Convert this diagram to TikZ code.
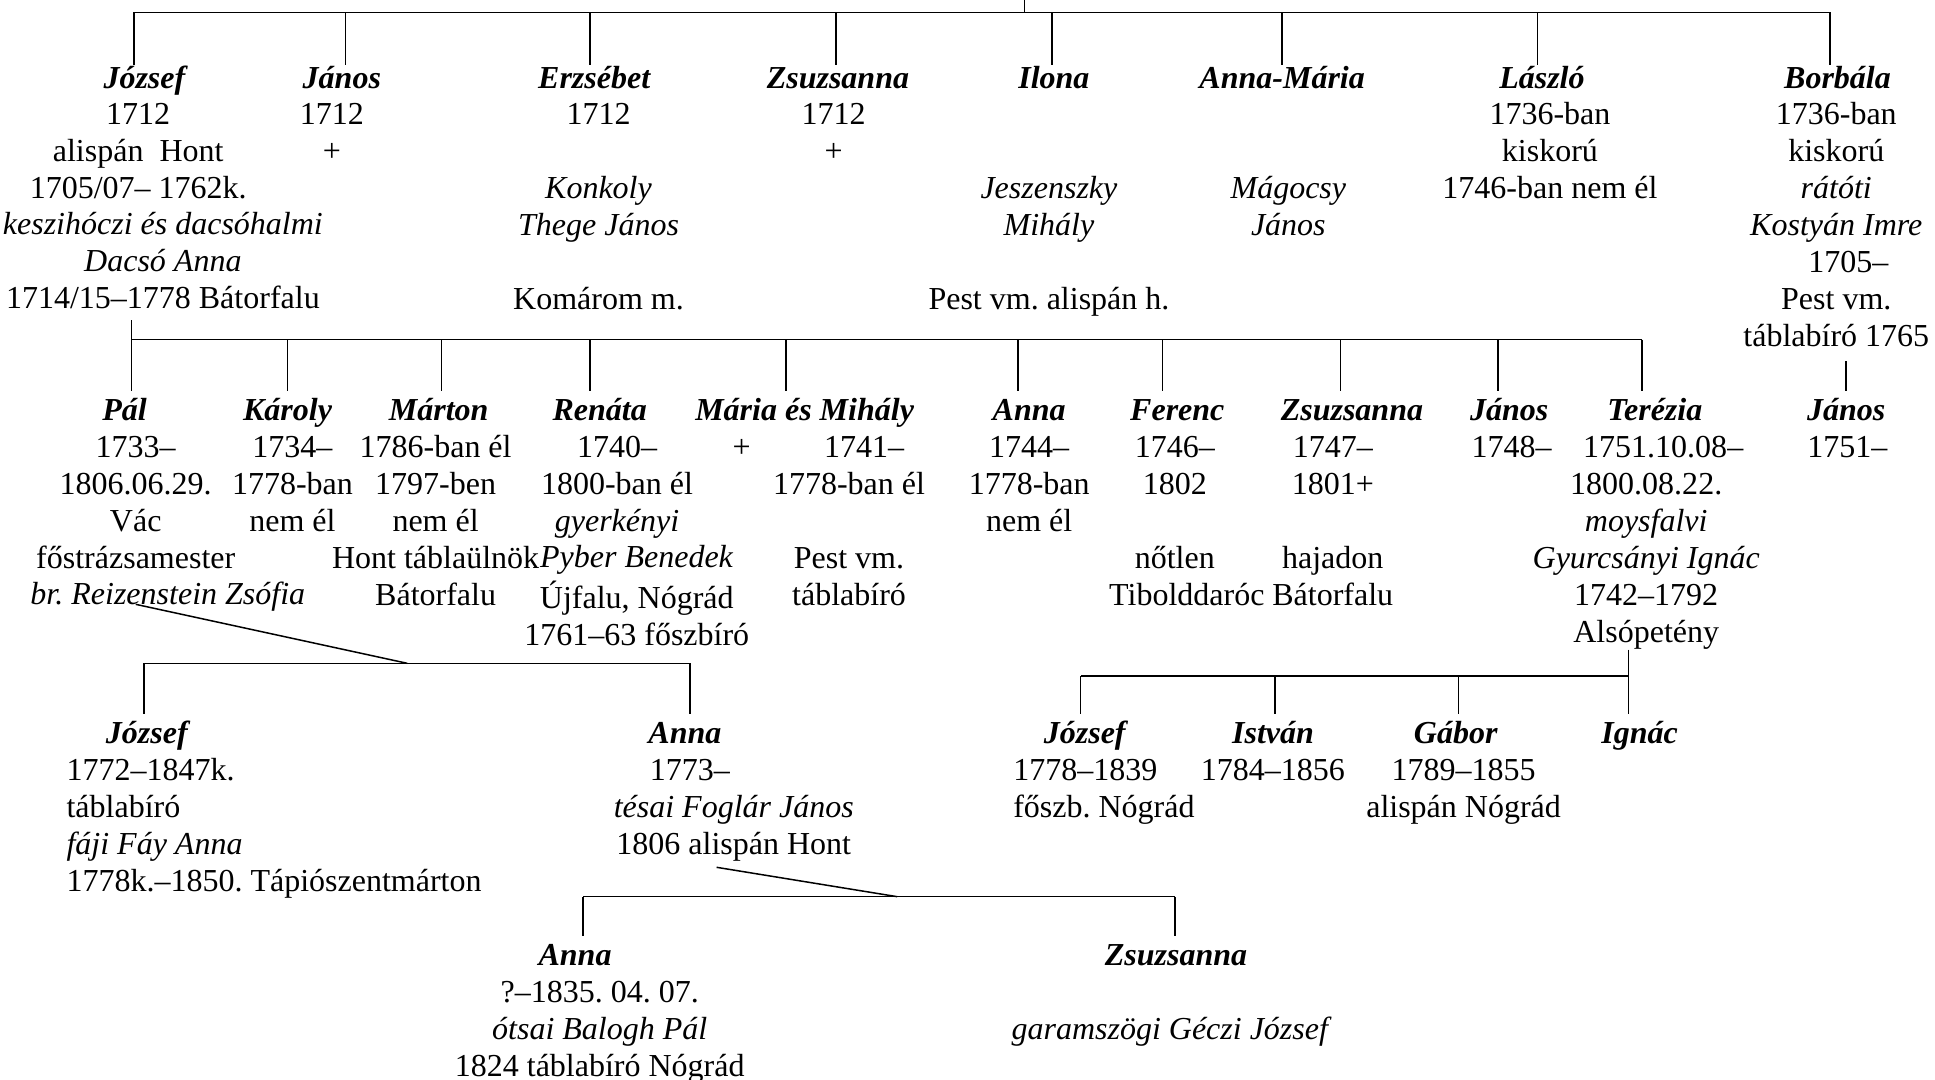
\documentclass[tikz,border=0pt]{standalone}
\usepackage{fontspec}
\setmainfont{Liberation Serif}
\newcommand\txtsz{\fontsize{16}{18.5}\selectfont\frenchspacing}
\tikzset{
  ln/.style={line width=0.75pt,draw=black},
  nm/.style={font=\txtsz\bfseries\itshape,inner sep=0pt,anchor=base,text height=14.5pt},
  nmtop/.style={nm,text height=11.4pt},
  info/.style={font=\txtsz,inner sep=0pt,anchor=north,align=center},
  infol/.style={info,anchor=north west,align=left}
}
\begin{document}
\begin{tikzpicture}[x=0.617pt,y=-0.617pt]
  \fill[white] (0,0) rectangle (1568,875);
  \useasboundingbox (0,0) rectangle (1568,875);

  \coordinate (top) at (830,0);
  \coordinate (b1l) at (108.5,10);
  \coordinate (b1r) at (1483,10);
  \node[nmtop] (jozsef) at (117,71.5) {József};
  \node[nmtop] (janos) at (277,71.5) {János};
  \node[nmtop] (erzsebet) at (481.5,71.5) {Erzsébet};
  \node[nmtop] (zsuzsanna) at (679,71.5) {Zsuzsanna};
  \node[nmtop] (ilona) at (854,71.5) {Ilona};
  \node[nmtop] (annamaria) at (1039,71.5) {Anna-Mária};
  \node[nmtop] (laszlo) at (1249.5,71.5) {László};
  \node[nmtop] (borbala) at (1489,71.5) {Borbála};
  \node[info] (jozsefi) at (112,79.5) {\strut 1712\\alispán~~Hont\\1705/07– 1762k.};
  \node[info] (jozsefs) at (132,168.9) {\strut\textit{keszihóczi és dacsóhalmi}\\\textit{Dacsó Anna}\hspace{18pt}\\1714/15–1778 Bátorfalu};
  \node[info] (janosi) at (269,79.5) {\strut 1712\\+};
  \node[info] (erzsebeti) at (485,79.5) {\strut 1712\\{}\\\textit{Konkoly}\\\textit{Thege János}\\{}\\Komárom m.};
  \node[info] (zsuzsannai) at (675.5,79.5) {\strut 1712\\+};
  \node[info] (ilonai) at (850,79.5) {\strut\\{}\\\textit{Jeszenszky}\\\textit{Mihály}\\{}\\Pest vm. alispán h.};
  \node[info] (annamariai) at (1044,79.5) {\strut\\{}\\\textit{Mágocsy}\\\textit{János}};
  \node[info] (laszloi) at (1256,79.5) {\strut 1736-ban\\kiskorú\\1746-ban nem él};
  \node[info] (borbalai) at (1488,79.5) {\strut 1736-ban\\kiskorú\\\textit{rátóti}\\\textit{Kostyán Imre}\hspace{11pt}\\\hspace{12pt}1705–\\Pest vm.\hspace{12pt}\\táblabíró 1765};
  \draw[ln] (b1l) -- (b1r);
  \draw[ln] (top) -- (top |- b1l);
  \foreach \n/\dx in {jozsef/-5.2pt,janos/1.9pt,erzsebet/-2pt,zsuzsanna/-0.9pt,ilona/-0.9pt,annamaria/0pt,laszlo/-2.2pt,borbala/-3.7pt}
    {\draw[ln] ([xshift=\dx]\n.north |- b1l) -- ([xshift=\dx]\n.north);}

  \coordinate (b2l) at (106.7,275.3);
  \coordinate (b2r) at (1330.7,275.3);
  \node[nm] (pal) at (101,340.4) {Pál};
  \node[nm] (karoly) at (233,340.4) {Károly};
  \node[nm] (marton) at (355.5,340.4) {Márton};
  \node[nm] (renata) at (486,340.4) {Renáta};
  \node[nm] (mm) at (652,340.4) {Mária és Mihály};
  \node[nm] (anna) at (834,340.4) {Anna};
  \node[nm] (ferenc) at (954,340.4) {Ferenc};
  \node[nm] (zsuzsanna2) at (1095.5,340.4) {Zsuzsanna};
  \node[nm] (janos2) at (1223,340.4) {János};
  \node[nm] (terezia) at (1341,340.4) {Terézia};
  \node[nm] (janosb) at (1496,340.4) {János};
  \node[info] (pali) at (110,349.2) {\strut 1733–\\1806.06.29.\\Vác\\főstrázsamester};
  \node[info] (pals) at (136,468.4) {\strut\textit{br. Reizenstein Zsófia}};
  \node[info] (karolyi) at (237,349.2) {\strut 1734–\\1778-ban\\nem él};
  \node[info] (martoni) at (353,349.2) {\strut 1786-ban él\\1797-ben\\nem él\\Hont táblaülnök\hspace{9pt}\\Bátorfalu};
  \node[info] (renatai) at (500,349.2) {\strut 1740–\\1800-ban él\\\textit{gyerkényi}};
  \node[info] (renatas) at (516,438.6) {\strut\textit{Pyber Benedek}\\Újfalu, Nógrád\\1761–63 főszbíró};
  \node[info] (mmplus) at (601,349.2) {\strut +};
  \node[info] (mmi) at (688,349.2) {\strut\hspace{15pt}1741–\\1778-ban él\\{}\\Pest vm.\\táblabíró};
  \node[info] (annai) at (834,349.2) {\strut 1744–\\1778-ban\\nem él};
  \node[info] (ferenci) at (952,349.2) {\strut 1746–\\1802\hspace{13.6pt}\\{}\\nőtlen\\\hspace{12pt}Tibolddaróc};
  \node[info] (zsuzsannai2) at (1080,349.2) {\strut 1747–\\1801+\\{}\\hajadon\\Bátorfalu};
  \node[info] (janosi2) at (1225,349.2) {\strut 1748–};
  \node[info] (terezi) at (1334,349.2) {\strut\hspace{17pt}1751.10.08–\\1800.08.22.\\\textit{moysfalvi}\hspace{11pt}\\\textit{Gyurcsányi Ignác}\\1742–1792\\Alsópetény};
  \node[info] (janosbi) at (1497,349.2) {\strut 1751–};
  \draw[ln,shorten <=5.5pt] (b2l |- jozsefs.south) -- (b2l);
  \draw[ln] (b2l) -- (b2r);
  \foreach \n/\dx in {pal/3.5pt,karoly/0pt,marton/1.5pt,renata/-4.9pt,mm/-9.4pt,anna/-5.7pt,ferenc/-7.5pt,zsuzsanna2/-5.6pt,janos2/-5.6pt,terezia/-6.4pt}
    {\draw[ln] ([xshift=\dx]\n.north |- b2l) -- ([xshift=\dx]\n.north);}
  \draw[ln,shorten <=7pt] (janosb.north |- borbalai.south) -- (janosb.north);

  \coordinate (b3l) at (116.6,537.5);
  \coordinate (b3m) at (330,537.5);
  \coordinate (b3r) at (559,537.5);
  \node[nm] (jozsef3) at (119,602.4) {József};
  \node[nm] (anna3) at (555,602.4) {Anna};
  \node[infol] (jozsef3i) at (53.6,611) {\strut 1772–1847k.\\táblabíró\\\textit{fáji Fáy Anna}\\1778k.–1850. Tápiószentmárton};
  \node[info] (anna3i) at (559,611) {\strut 1773–};
  \node[info] (anna3s) at (594.6,640.8) {\strut\textit{tésai Foglár János}\\1806 alispán Hont};
  \draw[ln] (pali.south |- pals.base) -- (b3m);
  \draw[ln] (b3l) -- (b3r);
  \foreach \n/\dx in {jozsef3/-1.5pt,anna3/2.5pt}
    {\draw[ln] ([xshift=\dx]\n.north |- b3l) -- ([xshift=\dx]\n.north);}

  \coordinate (b5l) at (875.8,547.8);
  \coordinate (b5r) at (1319.5,547.8);
  \node[nm] (jozsef4) at (879,602.4) {József};
  \node[nm] (istvan) at (1031.6,602.4) {István};
  \node[nm] (gabor) at (1179.6,602.4) {Gábor};
  \node[nm] (ignac) at (1328.7,602.4) {Ignác};
  \node[infol] (jozsef4i) at (820.8,611) {\strut 1778–1839\\főszb. Nógrád};
  \node[info] (istvani) at (1031.5,611) {\strut 1784–1856};
  \node[info] (gabori) at (1186,611) {\strut 1789–1855\\alispán Nógrád};
  \draw[ln] (b5r |- terezi.south) -- (b5r);
  \draw[ln] (b5l) -- (b5r);
  \foreach \n/\dx in {jozsef4/-2pt,istvan/0.9pt,gabor/1.5pt,ignac/-5.7pt}
    {\draw[ln] ([xshift=\dx]\n.north |- b5l) -- ([xshift=\dx]\n.north);}

  \coordinate (b4l) at (472.5,726.6);
  \coordinate (b4m) at (727,726.6);
  \coordinate (b4r) at (952,726.6);
  \node[nm] (anna4) at (466,782) {Anna};
  \node[nm] (zsuzsanna4) at (953,782) {Zsuzsanna};
  \node[info] (anna4i) at (486,790.7) {\strut ?–1835. 04. 07.\\\textit{ótsai Balogh Pál}\\1824 táblabíró Nógrád};
  \node[info] (zsuzsanna4i) at (949.4,790.7) {\strut\\\textit{garamszögi Géczi József}};
  \draw[ln] ([xshift=-8.6pt,yshift=-3pt]anna3s.south) -- (b4m);
  \draw[ln] (b4l) -- (b4r);
  \foreach \n/\dx in {anna4/4pt,zsuzsanna4/-0.6pt}
    {\draw[ln] ([xshift=\dx]\n.north |- b4l) -- ([xshift=\dx]\n.north);}
\end{tikzpicture}
\end{document}
